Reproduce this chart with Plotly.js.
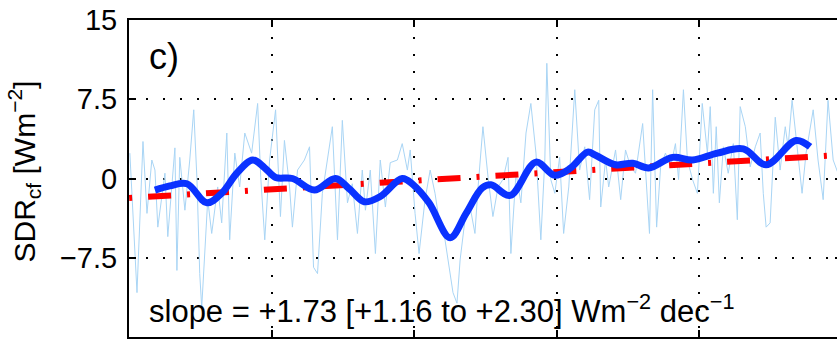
<!DOCTYPE html>
<html>
<head>
<meta charset="utf-8">
<script src="https://cdn.plot.ly/plotly-3.0.1.min.js"></script>
<style>
html,body{margin:0;padding:0;overflow:hidden;background:#fff;width:837px;height:350px;}
#chart{width:900px;height:350px;}
</style>
</head>
<body>
<div id="chart"></div>
<script>
// Raw (light blue) series: decimal year and anomaly (W m-2)
var rawYears = [1985.03,1985.28,1985.49,1985.63,1985.80,1985.91,1986.01,1986.26,1986.36,1986.61,1986.68,1986.78,1986.96,1987.13,1987.27,1987.38,1987.48,1987.55,1987.76,1987.90,1988.11,1988.25,1988.43,1988.53,1988.71,1988.88,1989.06,1989.30,1989.51,1989.62,1989.76,1989.93,1990.14,1990.31,1990.45,1990.63,1990.73,1990.91,1991.15,1991.33,1991.47,1991.61,1991.78,1991.96,1992.13,1992.31,1992.48,1992.66,1992.83,1993.01,1993.18,1993.29,1993.46,1993.64,1993.81,1993.99,1994.16,1994.41,1994.58,1994.76,1994.86,1995.03,1995.17,1995.38,1995.56,1995.73,1995.91,1996.08,1996.22,1996.36,1996.50,1996.61,1996.78,1996.96,1997.13,1997.24,1997.41,1997.59,1997.76,1997.94,1998.11,1998.29,1998.39,1998.57,1998.74,1998.92,1999.09,1999.27,1999.44,1999.58,1999.65,1999.79,1999.93,2000.10,2000.24,2000.42,2000.63,2000.80,2000.98,2001.15,2001.33,2001.47,2001.54,2001.71,2001.82,2002.06,2002.24,2002.41,2002.59,2002.76,2003.01,2003.15,2003.25,2003.36,2003.50,2003.64,2003.81,2003.99,2004.16,2004.27,2004.44,2004.58,2004.76,2004.93,2005.10,2005.28,2005.38,2005.49,2005.59,2005.70,2005.84,2006.01,2006.19,2006.33,2006.43,2006.61,2006.78,2006.96,2007.13,2007.24,2007.34,2007.48,2007.66,2007.83,2008.01,2008.11,2008.25,2008.39,2008.60,2008.74,2008.99,2009.16,2009.34,2009.51,2009.69,2009.86];
var rawValues = [2.4,-10.8,3.5,-3.3,1.75,0.8,-4.6,0.5,-5.5,2.9,-8.7,2.0,-3.0,1.75,6.5,0.1,-9.0,-12.2,-2.0,-5.2,-0.8,-4.2,4.3,-5.8,2.4,-0.8,4.3,2.4,7.1,0.1,-5.8,1.75,6.5,-3.6,3.6,-0.8,-4.6,0.8,1.75,3.0,-8.4,-9.0,-1.4,1.75,4.9,-5.8,5.5,-2.3,-0.5,-5.2,0.8,-3.0,0.8,-7.1,1.75,-2.7,1.5,1.75,3.3,0.8,2.7,-3.3,-7.1,-2.0,0.8,-1.4,-4.6,-5.8,-8.4,-10.8,-11.8,-7.7,-3.9,-2.7,-5.2,-0.8,4.9,0.1,-3.6,-0.8,-0.1,2.0,-7.1,0.5,-2.3,4.3,7.1,2.4,-5.8,1.75,10.9,-0.1,-1.4,2.0,-5.2,-0.8,8.4,0.8,3.0,-2.0,6.5,7.4,-2.7,1.75,-0.8,2.7,-2.0,2.7,1.1,0.5,5.2,-1.4,-5.2,8.4,-4.6,1.1,2.4,1.1,3.3,-0.1,8.4,1.75,-0.1,-1.4,7.1,2.4,6.8,-1.4,4.9,-2.3,3.0,0.5,3.3,-3.9,6.8,4.9,1.1,3.0,4.3,-1.4,-4.6,-4.2,5.8,0.8,4.9,3.0,7.4,3.9,-1.4,2.4,6.5,1.75,-2.0,7.4,1.75,0.5];

// Smoothed (thick blue) series
var smoothYears = [1985.91,1986.43,1987.03,1987.73,1988.25,1988.78,1989.34,1989.76,1990.14,1990.73,1991.50,1992.24,1992.73,1993.25,1993.81,1994.58,1994.97,1995.52,1996.26,1996.82,1997.38,1997.69,1998.36,1999.27,1999.93,2000.49,2001.08,2001.36,2002.06,2002.66,2003.22,2004.06,2004.76,2005.63,2006.54,2007.34,2008.39,2008.88];
var smoothValues = [-1.1,-0.7,-0.5,-2.3,-1.4,0.5,1.75,1.0,0.1,0.0,-1.1,0.0,-1.0,-2.2,-1.7,0.0,-0.6,-2.3,-5.6,-3.3,-0.9,-0.6,-1.6,1.55,0.3,1.0,2.5,2.2,1.3,1.45,1.0,2.0,1.75,2.4,2.8,1.3,3.6,3.0];

// Linear trend (red dashed) endpoints
var trendYears = [1983.64, 2011.0];
var trendValues = [-2.07, 2.40];

// Axis ticks
var yTickVals = [-15, -7.5, 0, 7.5, 15];
var yTickText = ['\u221215', '\u22127.5', '0', '7.5', '15'];
var xTickVals = [1985, 1990, 1995, 2000, 2005, 2010];

var FONT = 'Liberation Sans, Arial, Helvetica, sans-serif';

var traces = [
  {x: rawYears, y: rawValues, type: 'scatter', mode: 'lines',
   line: {color: '#a9d5f5', width: 1}, hoverinfo: 'skip'},
  {x: trendYears, y: trendValues, type: 'scatter', mode: 'lines',
   line: {color: '#ff0000', width: 6, dash: '23px,16px,3px,16px'}, hoverinfo: 'skip'},
  {x: smoothYears, y: smoothValues, type: 'scatter', mode: 'lines',
   line: {color: '#0a32ff', width: 7, shape: 'spline', smoothing: 1}, hoverinfo: 'skip'}
];

var axisCommon = {
  showline: true, linecolor: '#000', linewidth: 2, mirror: 'ticks',
  ticks: 'inside', ticklen: 7, tickwidth: 2, tickcolor: '#000',
  showgrid: true, gridcolor: '#000', gridwidth: 2, griddash: '2px,15px',
  zeroline: false
};

var layout = {
  width: 900, height: 350,
  margin: {l: 129, r: 58, t: 20, b: 13},
  paper_bgcolor: '#fff', plot_bgcolor: '#fff',
  showlegend: false,
  font: {family: FONT, color: '#000'},
  xaxis: Object.assign({}, axisCommon, {
    range: [1985, 2010], tickmode: 'array', tickvals: xTickVals,
    showticklabels: false
  }),
  yaxis: Object.assign({}, axisCommon, {
    range: [-15, 15], tickmode: 'array', tickvals: yTickVals, ticktext: yTickText,
    tickfont: {family: FONT, size: 29, color: '#000'}, ticklabelstandoff: 4
  }),
  annotations: [
    {text: 'c)', xref: 'paper', yref: 'paper', x: 0, y: 1, xanchor: 'left', yanchor: 'middle',
     xshift: 18, yshift: -36, showarrow: false, font: {family: FONT, size: 36, color: '#000'}},
    {text: 'slope = +1.73 [+1.16 to +2.30] Wm<sup>\u22122</sup> dec<sup>\u22121</sup>',
     xref: 'paper', yref: 'paper', x: 0, y: 0, xanchor: 'left', yanchor: 'middle',
     xshift: 18, yshift: 28, showarrow: false, font: {family: FONT, size: 31, color: '#000'}},
    {text: 'SDR<sub>cf</sub> [Wm<sup>\u22122</sup>]', textangle: -90,
     xref: 'paper', yref: 'paper', x: 0, y: 0.5, xanchor: 'center', yanchor: 'middle',
     xshift: -105, yshift: 7, showarrow: false, font: {family: FONT, size: 30, color: '#000'}}
  ]
};

Plotly.newPlot('chart', traces, layout, {staticPlot: true, displayModeBar: false});
</script>
</body>
</html>
